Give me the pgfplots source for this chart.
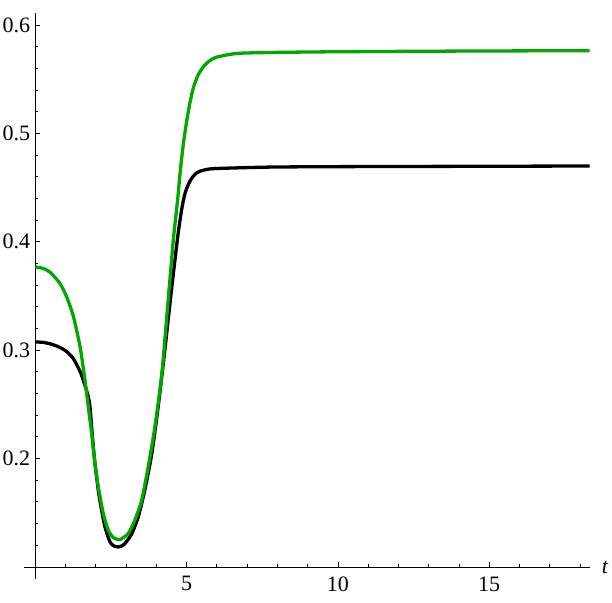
\documentclass[border=0pt]{standalone}
\usepackage{fontspec}
\setmainfont{Liberation Serif}
\usepackage{pgfplots}
\pgfplotsset{compat=1.18}
\definecolor{mgreen}{RGB}{0,168,0}

\pgfplotstableread{
x y
0 0.3076
0.25 0.3072
0.5 0.3058
0.75 0.3033
1.0 0.2995
1.25 0.2925
1.5 0.2790
1.64 0.2675
1.752 0.2568
1.807 0.2476
1.862 0.2291
1.917 0.2106
1.972 0.1953
2.082 0.1706
2.192 0.1522
2.302 0.1368
2.467 0.1229
2.60 0.1192
2.742 0.1183
2.88 0.1195
2.96 0.1214
3.18 0.1300
3.40 0.1460
3.62 0.1710
3.85 0.2045
4.06 0.2476
4.28 0.3000
4.51 0.3580
4.72 0.4077
4.85 0.4320
4.95 0.4450
5.05 0.4525
5.13 0.4570
5.22 0.4606
5.33 0.4636
5.44 0.4652
5.66 0.4668
5.99 0.4677
7.75 0.4690
10 0.4694
14 0.4697
18.32 0.4700
}\blackdata

\pgfplotstableread{
x y
0 0.3768
0.25 0.3755
0.486 0.3720
0.816 0.3615
1.04 0.3490
1.26 0.3310
1.48 0.3030
1.642 0.2722
1.752 0.2476
1.862 0.2230
1.972 0.1953
2.082 0.1737
2.247 0.1491
2.412 0.1337
2.577 0.1270
2.797 0.1251
3.07 0.1307
3.29 0.1430
3.51 0.1610
3.73 0.1920
3.95 0.2290
4.18 0.2780
4.39 0.3460
4.56 0.4015
4.70 0.4380
4.80 0.4680
4.90 0.4920
5.00 0.5110
5.10 0.5270
5.22 0.5420
5.38 0.5540
5.55 0.5615
5.75 0.5670
5.99 0.5705
6.65 0.5739
7.75 0.5748
10 0.5755
14 0.5761
18.32 0.5765
}\greendata

\begin{document}
\begin{tikzpicture}
\useasboundingbox (-35.3pt,-34.7pt) rectangle (576.7pt,567.3pt);
\begin{axis}[
  scale only axis,
  width=554.4pt, height=554pt,
  xmin=0, xmax=18.32,
  ymin=0.0995, ymax=0.611,
  axis lines*=left,
  axis line style={line width=1.1pt},
  tick align=inside,
  major tick length=5pt,
  minor tick length=3pt,
  every tick/.style={black, line width=0.8pt},
  xtick={5,10,15},
  xticklabels={5,10,15},
  minor xtick={1,2,3,4,6,7,8,9,11,12,13,14,16,17,18},
  ytick={0.2,0.3,0.4,0.5,0.6},
  yticklabels={0.2,0.3,0.4,0.5,0.6},
  minor ytick={0.12,0.14,0.16,0.18,0.22,0.24,0.26,0.28,0.32,0.34,0.36,0.38,0.42,0.44,0.46,0.48,0.52,0.54,0.56,0.58},
  yticklabel style={inner sep=0pt, xshift=-5pt},
  xticklabel style={inner sep=0pt, yshift=-9pt},
  tick label style={font=\rmfamily\fontsize{22}{26}\selectfont},
  clip=false,
]
\addplot[black, line width=3.3pt, smooth, tension=0.4] table[x=x, y=y] {\blackdata};
\addplot[mgreen, line width=3.3pt, smooth, tension=0.4] table[x=x, y=y] {\greendata};
\draw[line width=1.1pt] (axis cs:-0.373,0.0995) -- (axis cs:0,0.0995);
\draw[line width=1.1pt] (axis cs:0,0.0887) -- (axis cs:0,0.0995);
\node[anchor=west, inner sep=0pt, font=\rmfamily\fontsize{22}{26}\selectfont\itshape] at ([xshift=12pt]rel axis cs:1,0) {t};
\end{axis}
\end{tikzpicture}
\end{document}
